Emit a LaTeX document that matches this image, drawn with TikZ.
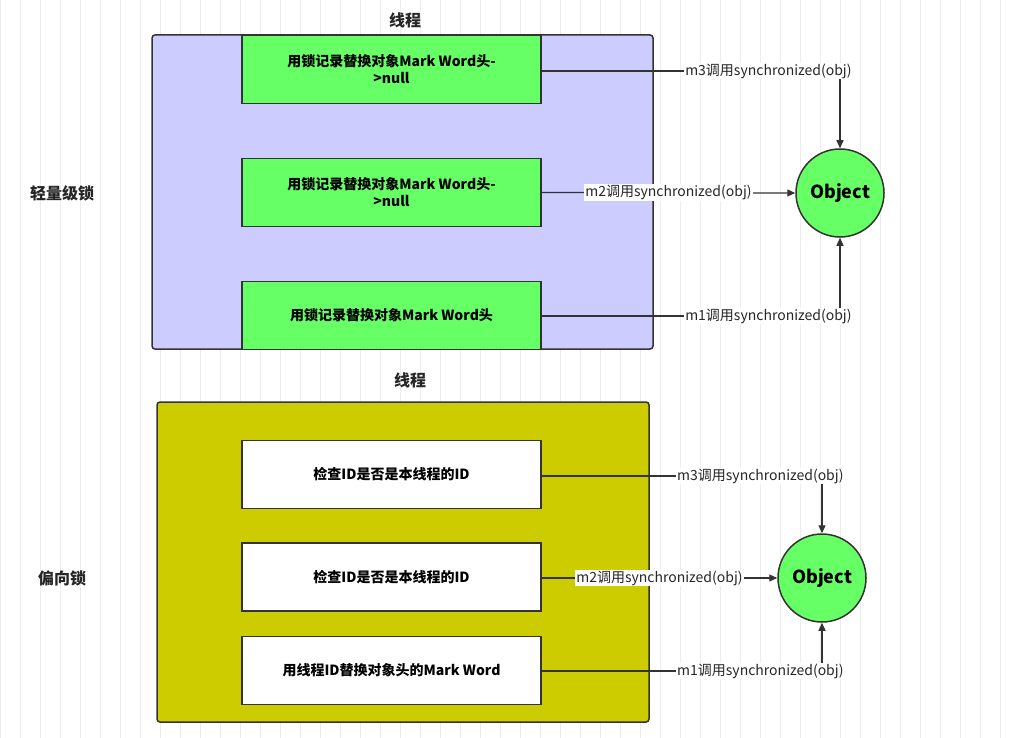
\documentclass[tikz,border=0pt]{standalone}
\usepackage{fontspec}
\setmainfont{Noto Sans CJK SC}
\usetikzlibrary{arrows.meta}
\begin{document}
\begin{tikzpicture}[x=1pt,y=-1pt,
  cont/.style={draw=black!80,line width=1.5pt,rounded corners=3pt},
  box/.style={draw=black!80,line width=1.2pt,minimum width=299pt,minimum height=68pt,inner sep=0pt,align=center,font=\fontsize{14}{17}\selectfont\bfseries},
  obj/.style={circle,draw=black!80,line width=1.5pt,fill=green!60!lime!70!white,minimum size=88pt,inner sep=0pt,font=\fontsize{18}{20}\selectfont\bfseries},
  conn/.style={draw=black!80,line width=1.3pt,-{Triangle[length=8pt,width=7pt]}},
  lab/.style={fill=white,inner sep=1pt,font=\fontsize{14}{16}\selectfont,text=black!85},
  ttl/.style={font=\fontsize{16}{18}\selectfont\bfseries,text=black!85}]
\useasboundingbox (0,0) rectangle (1019,738);
\fill[white] (0,0) rectangle (1019,738);
\draw[black!7,line width=0.6pt] (0,0) grid[step=20] (1019,738);
\definecolor{lav}{HTML}{CCCCFF}\definecolor{gr}{HTML}{66FF66}\definecolor{ol}{HTML}{CCCC00}
% top
\node[ttl] (t1) at (405,20) {线程};
\draw[cont,fill=lav] (152,35) rectangle (653,349);
\node[box,fill=gr] (a1) at (391.5,69.5) {用锁记录替换对象Mark Word头-\\>null};
\node[box,fill=gr] (a2) at (391.5,192.5) {用锁记录替换对象Mark Word头-\\>null};
\node[box,fill=gr] (a3) at (391.5,315.5) {用锁记录替换对象Mark Word头};
\node[obj,fill=gr] (o1) at (840,193) {Object};
\node[font=\fontsize{16}{18}\selectfont\bfseries,text=black!85] (l1) at (62,193) {轻量级锁};
\draw[conn] (a1.east |- 0,71) -| (o1.north) node[lab,pos=0.38] {m3调用synchronized(obj)};
\draw[conn] (a2.east) -- (o1.west) node[lab,midway] {m2调用synchronized(obj)};
\draw[conn] (a3.east |- 0,316) -| (o1.south) node[lab,pos=0.38] {m1调用synchronized(obj)};
% bottom
\node[ttl] (t2) at (410,380) {线程};
\draw[cont,fill=ol] (157,402) rectangle (649,722);
\node[box,fill=white] (b1) at (391.5,474.5) {检查ID是否是本线程的ID};
\node[box,fill=white] (b2) at (391.5,577) {检查ID是否是本线程的ID};
\node[box,fill=white] (b3) at (391.5,670.5) {用线程ID替换对象头的Mark Word};
\node[obj,fill=gr] (o2) at (822,578) {Object};
\node[font=\fontsize{16}{18}\selectfont\bfseries,text=black!85] (l2) at (62,578) {偏向锁};
\draw[conn] (b1.east |- 0,476) -| (o2.north) node[lab,pos=0.39] {m3调用synchronized(obj)};
\draw[conn] (b2.east |- 0,578) -- (o2.west) node[lab,midway] {m2调用synchronized(obj)};
\draw[conn] (b3.east |- 0,671) -| (o2.south) node[lab,pos=0.39] {m1调用synchronized(obj)};
\end{tikzpicture}
\end{document}
